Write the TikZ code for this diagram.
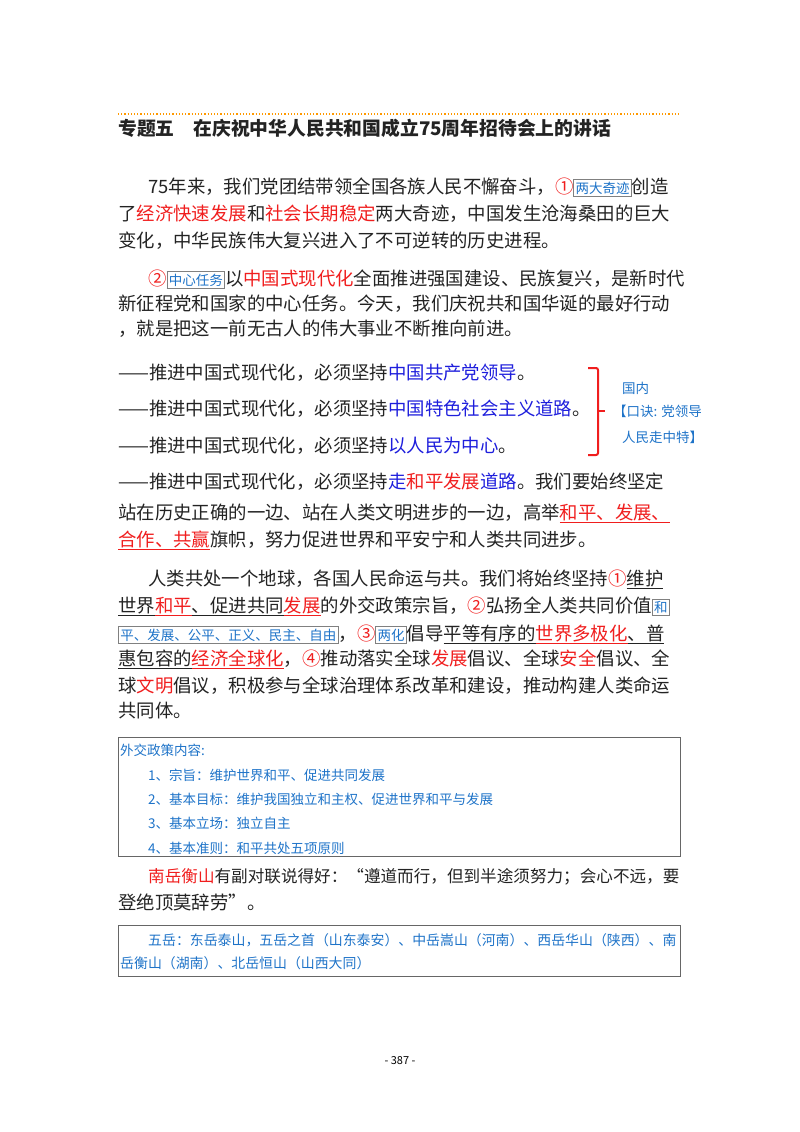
\documentclass[tikz,border=0pt]{standalone}
\usepackage{fontspec}
\setmainfont{Noto Sans CJK SC}
\usetikzlibrary{calc}
\definecolor{rd}{RGB}{240,30,30}
\definecolor{bl}{RGB}{30,30,220}
\definecolor{an}{RGB}{30,115,200}
\definecolor{tx}{RGB}{35,35,35}
\newlength\ulw
\newcommand\myul[2]{\settowidth\ulw{#2}\rlap{\color{#1}\rule[-4pt]{\ulw}{0.8pt}}#2}
\newcommand\bx[1]{{\setlength\fboxsep{1.5pt}\setlength\fboxrule{0.7pt}\fcolorbox{gray}{white}{\fontsize{13.5}{14}\selectfont\color{an}#1}}}
\newcommand\R[1]{{\color{rd}#1}}
\newcommand\B[1]{{\color{bl}#1}}
\begin{document}
\begin{tikzpicture}[x=1pt,y=-1pt,
  ln/.style={anchor=base west,inner sep=0pt,font=\fontsize{18.4}{19}\selectfont,text=tx},
  sm/.style={anchor=base west,inner sep=0pt,font=\fontsize{13.5}{14}\selectfont,text=an},
  boxr/.style={draw=gray!80!black,line width=0.8pt}]
\useasboundingbox (0,0) rectangle (800,1132);
\draw[orange!80!yellow,dotted,line width=1.2pt] (118,114) -- (680,114);
\node[ln,font=\fontsize{18.8}{19}\selectfont\bfseries] (title) at (118,135) {专题五\quad 在庆祝中华人民共和国成立75周年招待会上的讲话};
% P1
\node[ln] (p11) at (148,193) {75年来，我们党团结带领全国各族人民不懈奋斗，\R{①}\bx{两大奇迹}创造};
\node[ln] (p12) at (118,220) {了\R{经济快速发展}和\R{社会长期稳定}两大奇迹，中国发生沧海桑田的巨大};
\node[ln] (p13) at (118,247) {变化，中华民族伟大复兴进入了不可逆转的历史进程。};
% P2
\node[ln] (p21) at (148,285) {\R{②}\bx{中心任务}以\R{中国式现代化}全面推进强国建设、民族复兴，是新时代};
\node[ln] (p22) at (118,310) {新征程党和国家的中心任务。今天，我们庆祝共和国华诞的最好行动};
\node[ln] (p23) at (118,335) {，就是把这一前无古人的伟大事业不断推向前进。};
% dashes
\node[ln] (d1) at (118,379) {——推进中国式现代化，必须坚持\B{中国共产党领导}。};
\node[ln] (d2) at (118,415) {——推进中国式现代化，必须坚持\B{中国特色社会主义道路}。};
\node[ln] (d3) at (118,452) {——推进中国式现代化，必须坚持\B{以人民为中心}。};
\node[ln] (d4) at (118,488) {——推进中国式现代化，必须坚持\B{走}\R{和平发展}\B{道路}。我们要始终坚定};
\node[ln] (d5) at (118,519) {站在历史正确的一边、站在人类文明进步的一边，高举\myul{rd}{\R{和平、发展、}}};
\node[ln] (d6) at (118,546) {\myul{rd}{\R{合作、共赢}}旗帜，努力促进世界和平安宁和人类共同进步。};
% bracket
\draw[rd,line width=2pt,rounded corners=2pt] (588,368) -- (598,368) -- (598,455) -- (588,455);
\draw[rd,line width=2pt] (598,411) -- (605,411);
\node[sm] (a1) at (622,393) {国内};
\node[sm] (a2) at (613,416) {【口诀: 党领导};
\node[sm] (a3) at (622,442) {人民走中特】};
% P3
\node[ln] (p31) at (148,585) {人类共处一个地球，各国人民命运与共。我们将始终坚持\R{①}\myul{tx}{维护}};
\node[ln] (p32) at (118,612) {\myul{tx}{世界\myul{rd}{\R{和平}}、促进共同\myul{rd}{\R{发展}}}的外交政策宗旨，\R{②}弘扬全人类共同价值\bx{和}};
\node[ln] (p33) at (118,640) {\bx{平、发展、公平、正义、民主、自由}，\R{③}\bx{两化}倡导\myul{tx}{平等有序的\myul{rd}{\R{世界多极化}}、普}};
\node[ln] (p34) at (118,665) {\myul{tx}{惠包容的\myul{rd}{\R{经济全球化}}}，\R{④}推动落实全球\R{发展}倡议、全球\R{安全}倡议、全};
\node[ln] (p35) at (118,692) {球\R{文明}倡议，积极参与全球治理体系改革和建设，推动构建人类命运};
\node[ln] (p36) at (118,717) {共同体。};
% box 1
\draw[boxr] (118,737) rectangle (680,856);
\node[sm] (b0) at (120,755) {外交政策内容:};
\node[sm] (b1) at (148,780) {1、宗旨：维护世界和平、促进共同发展};
\node[sm] (b2) at (148,804) {2、基本目标：维护我国独立和主权、促进世界和平与发展};
\node[sm] (b3) at (148,828) {3、基本立场：独立自主};
\node[sm] (b4) at (148,853) {4、基本准则：和平共处五项原则};
% nanyue
\node[ln,font=\fontsize{16.6}{17}\selectfont] (n1) at (148,882) {\R{南岳衡山}有副对联说得好：“遵道而行，但到半途须努力；会心不远，要};
\node[ln] (n2) at (118,909) {登绝顶莫辞劳”。};
% box 2
\draw[boxr] (118,925) rectangle (680,976);
\node[sm,font=\fontsize{13.9}{14}\selectfont] (c1) at (148,945) {五岳：东岳泰山，五岳之首（山东泰安）、中岳嵩山（河南）、西岳华山（陕西）、南};
\node[sm,font=\fontsize{13.9}{14}\selectfont] (c2) at (120,968) {岳衡山（湖南）、北岳恒山（山西大同）};
\node[anchor=base,inner sep=0pt,font=\fontsize{11}{11}\selectfont] (pg) at (400,1064) {- 387 -};
\end{tikzpicture}
\end{document}
